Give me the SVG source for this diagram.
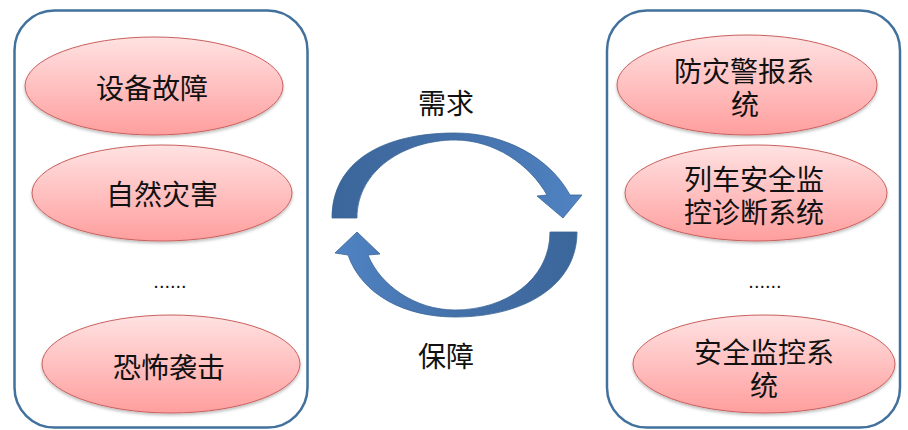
<svg xmlns="http://www.w3.org/2000/svg" width="908" height="430" viewBox="0 0 908 430">
<style>
.box{fill:#ffffff;stroke:#41719c;stroke-width:2.5}
.ell{fill:url(#pink);stroke:#c9605d;stroke-width:1;filter:url(#sh)}
.t{font-family:"Liberation Sans","Noto Sans CJK SC",sans-serif;font-size:28px;fill:#111;text-anchor:middle}
.dots{font-family:"Liberation Sans",sans-serif;font-size:20px;fill:#111;text-anchor:middle}
.arr{stroke:#3a6496;stroke-width:0.8}
</style>
<defs>
<linearGradient id="pink" x1="0" y1="0" x2="0" y2="1">
<stop offset="0" stop-color="#ffe2e2"/>
<stop offset="1" stop-color="#ff9e9e"/>
</linearGradient>
<linearGradient id="gTop" gradientUnits="userSpaceOnUse" x1="332" y1="0" x2="582" y2="0">
<stop offset="0" stop-color="#3b669a"/>
<stop offset="0.5" stop-color="#4471aa"/>
<stop offset="1" stop-color="#5083c3"/>
</linearGradient>
<linearGradient id="gBot" gradientUnits="userSpaceOnUse" x1="577" y1="0" x2="335" y2="0">
<stop offset="0" stop-color="#3b669a"/>
<stop offset="0.5" stop-color="#4471aa"/>
<stop offset="1" stop-color="#5083c3"/>
</linearGradient>
<filter id="sh" x="-10%" y="-10%" width="120%" height="130%">
<feDropShadow dx="0" dy="2" stdDeviation="1.5" flood-color="#000" flood-opacity="0.25"/>
</filter>
</defs>

<g id="left-box">
<rect class="box" x="14.5" y="10.5" width="293" height="417" rx="40" ry="40"/>
</g>
<g id="right-box">
<rect class="box" x="607" y="10.5" width="293" height="417" rx="40" ry="40"/>
</g>

<g id="node-equipment-failure">
<ellipse class="ell" cx="154" cy="86" rx="129" ry="49"/>
<text class="t" x="152" y="99">设备故障</text>
</g>
<g id="node-natural-disaster">
<ellipse class="ell" cx="162" cy="193" rx="130" ry="48"/>
<text class="t" x="162" y="205">自然灾害</text>
</g>
<g id="node-left-more">
<text class="dots" x="170" y="288">......</text>
</g>
<g id="node-terrorist-attack">
<ellipse class="ell" cx="171" cy="364" rx="129" ry="49"/>
<text class="t" x="169" y="378">恐怖袭击</text>
</g>

<g id="node-disaster-alarm">
<ellipse class="ell" cx="747" cy="85" rx="130" ry="50"/>
<text class="t" x="744" y="82">防灾警报系</text>
<text class="t" x="745" y="115">统</text>
</g>
<g id="node-train-monitoring">
<ellipse class="ell" cx="756" cy="193" rx="131" ry="48"/>
<text class="t" x="754" y="190">列车安全监</text>
<text class="t" x="754" y="223">控诊断系统</text>
</g>
<g id="node-right-more">
<text class="dots" x="765" y="288">......</text>
</g>
<g id="node-safety-monitoring">
<ellipse class="ell" cx="764" cy="364" rx="131" ry="49"/>
<text class="t" x="764" y="363">安全监控系</text>
<text class="t" x="764" y="396">统</text>
</g>

<g id="connectors">
<path class="arr" fill="url(#gTop)" d="M 332,218 C 332,162 382,133 455,133 C 505,133 550,158 570,195 L 582,195 L 563,218 L 537,196 L 547,195 C 530,165 495,140 455,140 C 405,140 357,170 357,218 Z"/>
<path class="arr" fill="url(#gBot)" d="M 577,232 C 577,285 525,317 455,317 C 405,317 362,295 348,255 L 335,253 L 357,232 L 380,254 L 368,255 C 380,285 415,310 455,310 C 505,310 550,280 550,232 Z"/>
<text class="t" x="446" y="114">需求</text>
<text class="t" x="446" y="367">保障</text>
</g>
</svg>
